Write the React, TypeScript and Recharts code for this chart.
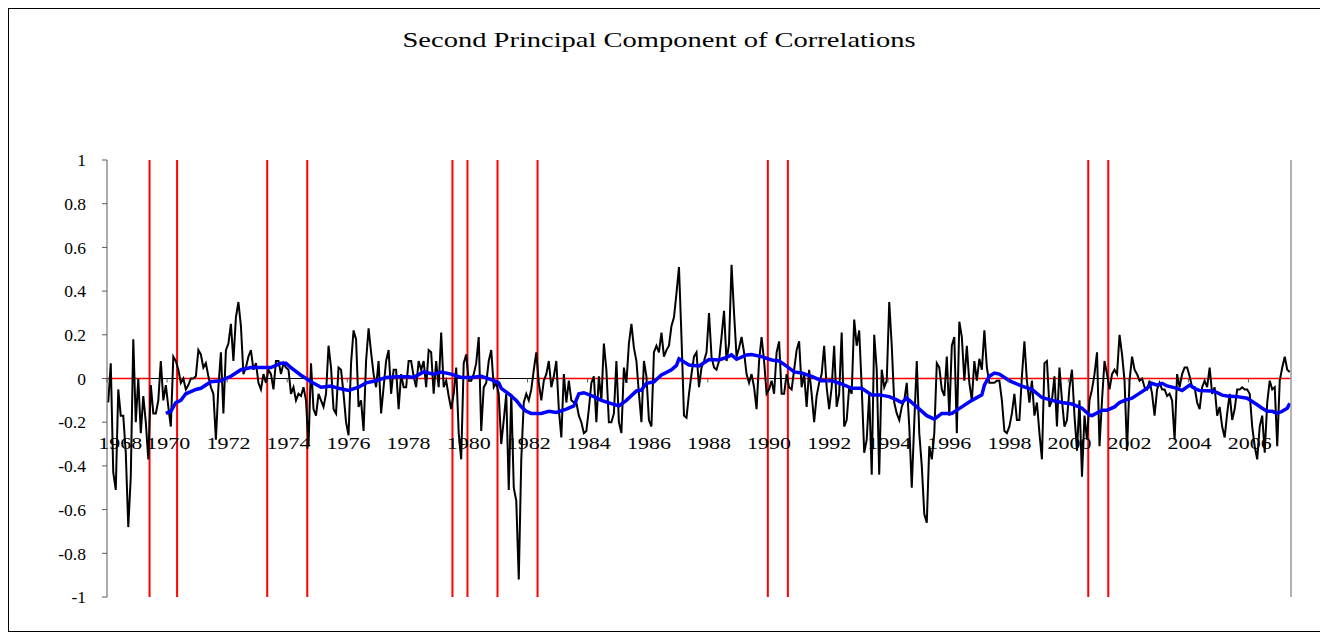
import React from 'react';
import { LineChart, Line, XAxis, YAxis, ReferenceLine } from 'recharts';

const FONT = '"Liberation Serif", "Times New Roman", serif';

// monthly values, one row per year starting July 1968
const pc2 = [
  -0.11, 0.07, -0.43, -0.51, -0.05, -0.17, -0.17, -0.34, -0.68, -0.45, 0.18, -0.2,
  0.0, -0.25, -0.08, -0.2, -0.37, -0.03, -0.16, -0.16, -0.1, 0.08, -0.1, -0.03,
  -0.13, -0.22, 0.1, 0.08, 0.04, -0.02, 0.0, -0.05, -0.03, 0.0, 0.0, 0.01,
  0.13, 0.11, 0.05, 0.07, 0.01, -0.04, -0.07, -0.28, -0.04, 0.12, -0.16, 0.13,
  0.16, 0.25, 0.08, 0.28, 0.35, 0.24, 0.02, 0.05, 0.1, 0.13, 0.04, 0.07,
  -0.02, -0.05, 0.02, -0.02, 0.04, 0.02, -0.05, 0.08, 0.08, 0.02, 0.07, 0.05,
  0.04, -0.07, -0.04, -0.1, -0.07, -0.08, -0.04, -0.1, -0.31, 0.07, -0.14, -0.17,
  -0.07, -0.1, -0.13, -0.07, 0.15, 0.05, -0.14, -0.16, 0.05, 0.04, -0.07, -0.2,
  -0.26, 0.07, 0.22, 0.18, -0.13, -0.1, -0.24, 0.08, 0.23, 0.12, 0.02, -0.04,
  0.08, -0.16, -0.04, 0.08, 0.13, -0.07, 0.04, 0.04, -0.14, 0.02, -0.04, -0.04,
  0.08, 0.08, 0.01, -0.04, 0.08, 0.04, 0.08, -0.04, 0.13, 0.12, -0.07, 0.08,
  -0.04, 0.21, -0.04, -0.01, -0.08, -0.14, -0.07, 0.05, -0.25, -0.37, 0.07, 0.11,
  -0.01, -0.01, 0.02, 0.07, 0.19, -0.24, -0.04, -0.02, 0.08, 0.13, -0.04, -0.02,
  -0.07, -0.3, -0.19, -0.07, -0.51, -0.07, -0.5, -0.56, -0.92, -0.37, -0.11, -0.07,
  -0.1, -0.05, 0.04, 0.12, -0.02, -0.1, -0.01, 0.02, 0.08, -0.04, 0.01, 0.08,
  -0.14, -0.27, 0.02, -0.11, -0.01, -0.1, -0.11, -0.11, -0.17, -0.2, -0.25, -0.24,
  -0.14, -0.02, 0.01, -0.2, 0.01, -0.1, 0.16, 0.04, -0.2, -0.2, -0.16, 0.08,
  -0.2, -0.25, 0.05, -0.02, 0.16, 0.25, 0.14, 0.08, -0.07, -0.2, 0.08, 0.01,
  -0.19, -0.22, 0.12, 0.15, 0.12, 0.21, 0.1, 0.13, 0.15, 0.24, 0.28, 0.39,
  0.51, 0.19, -0.17, -0.18, -0.07, 0.02, 0.1, 0.12, -0.04, 0.05, 0.08, 0.12,
  0.3, 0.1, 0.05, 0.04, 0.08, 0.19, 0.31, 0.08, 0.16, 0.52, 0.3, 0.1,
  0.14, 0.19, 0.12, 0.02, -0.02, 0.02, -0.04, -0.14, 0.08, 0.19, 0.08, -0.07,
  -0.05, -0.01, -0.07, 0.12, 0.17, -0.07, -0.07, 0.02, -0.04, -0.05, 0.04, 0.13,
  0.17, -0.04, 0.02, -0.13, 0.04, -0.07, -0.2, -0.08, -0.02, 0.02, 0.15, -0.04,
  -0.14, -0.04, 0.15, -0.13, -0.07, 0.21, -0.22, -0.19, -0.04, -0.07, 0.27, 0.15,
  0.22, -0.04, -0.34, -0.28, -0.07, -0.44, 0.2, 0.04, -0.44, 0.04, -0.04, -0.01,
  0.35, 0.15, -0.11, -0.16, -0.19, -0.13, -0.1, -0.02, -0.22, -0.5, -0.2, 0.08,
  -0.25, -0.4, -0.62, -0.66, -0.31, -0.37, -0.25, 0.07, 0.05, -0.05, -0.08, 0.1,
  -0.17, 0.15, 0.19, -0.25, 0.26, 0.19, -0.01, 0.15, -0.02, -0.1, 0.08, -0.01,
  0.09, 0.04, 0.22, 0.05, -0.02, -0.02, -0.02, -0.01, -0.01, -0.1, -0.24, -0.25,
  -0.22, -0.16, -0.07, -0.19, -0.19, 0.01, 0.17, -0.01, -0.11, -0.01, -0.17, -0.11,
  -0.25, -0.37, 0.07, 0.08, -0.13, -0.1, 0.01, -0.22, 0.05, -0.1, -0.22, -0.19,
  -0.04, 0.04, -0.17, -0.33, -0.1, -0.45, -0.17, -0.28, -0.1, -0.05, 0.02, 0.12,
  -0.31, -0.1, 0.08, 0.02, -0.05, 0.02, 0.04, 0.02, 0.2, 0.11, -0.01, -0.33,
  -0.01, 0.1, 0.04, 0.02, -0.01, 0.0, -0.04, -0.05, -0.01, -0.07, -0.17, -0.05,
  -0.02, -0.05, -0.05, -0.08, -0.07, -0.1, -0.28, 0.02, -0.04, 0.02, 0.05, 0.05,
  0.01, -0.04, -0.04, -0.11, -0.14, -0.04, -0.01, -0.04, 0.05, -0.07, -0.04, -0.17,
  -0.13, -0.22, -0.27, -0.16, -0.07, -0.19, -0.14, -0.05, -0.05, -0.04, -0.05, -0.05,
  -0.07, -0.22, -0.31, -0.37, -0.22, -0.17, -0.34, -0.11, -0.01, -0.05, -0.04, -0.31,
  -0.01, 0.05, 0.1, 0.04, 0.03,
];

// smoothed (blue) line, read at these month positions
const maMonths = [
  23, 25, 27, 29, 31, 33, 35, 37, 41, 45, 49, 53, 57, 61, 65, 69, 71, 73, 77, 81,
  85, 89, 92, 96, 100, 103, 107, 111, 115, 120, 122, 126, 130, 133, 137, 141, 145, 149, 153, 156,
  157, 160, 163, 165, 167, 169, 173, 176, 179, 183, 186, 188, 190, 194, 197, 201, 204, 207, 211, 213,
  215, 218, 221, 225, 227, 228, 232, 236, 240, 244, 247, 249, 251, 255, 257, 261, 265, 268, 271, 274,
  277, 281, 285, 289, 293, 297, 301, 305, 308, 312, 315, 317, 319, 323, 327, 330, 333, 337, 341, 345,
  349, 350, 352, 354, 356, 360, 361, 365, 369, 373, 377, 381, 385, 389, 392, 393, 397, 399, 402, 404,
  406, 409, 411, 413, 415, 417, 419, 421, 423, 427, 429, 432, 434, 436, 441, 443, 445, 447, 451, 455,
  457, 459, 461, 463, 465, 467, 469, 471, 472,
];
const maValues = [
  -0.16, -0.15, -0.11, -0.1, -0.07, -0.06, -0.05, -0.045, -0.015, -0.01, 0.01, 0.04, 0.05, 0.05, 0.05, 0.07, 0.07, 0.05, 0.015, -0.015,
  -0.04, -0.035, -0.045, -0.055, -0.04, -0.02, -0.01, 0.005, 0.008, 0.008, 0.005, 0.03, 0.02, 0.03, 0.02, 0.005, 0.005, 0.01, -0.005, -0.02,
  -0.045, -0.07, -0.1, -0.13, -0.15, -0.16, -0.16, -0.15, -0.155, -0.14, -0.125, -0.07, -0.065, -0.083, -0.1, -0.115, -0.125, -0.1, -0.057, -0.053,
  -0.022, -0.015, 0.016, 0.04, 0.06, 0.09, 0.062, 0.057, 0.087, 0.085, 0.097, 0.108, 0.088, 0.108, 0.11, 0.1, 0.085, 0.08, 0.057, 0.03,
  0.025, 0.01, -0.01, -0.01, -0.025, -0.045, -0.045, -0.075, -0.075, -0.083, -0.098, -0.11, -0.09, -0.13, -0.17, -0.186, -0.16, -0.16, -0.13, -0.1,
  -0.075, -0.03, 0.01, 0.025, 0.02, -0.01, -0.015, -0.035, -0.05, -0.087, -0.1, -0.11, -0.117, -0.136, -0.167, -0.17, -0.145, -0.145, -0.13, -0.11,
  -0.1, -0.09, -0.075, -0.06, -0.045, -0.022, -0.03, -0.022, -0.034, -0.045, -0.055, -0.03, -0.045, -0.055, -0.057, -0.065, -0.076, -0.08, -0.083, -0.09,
  -0.105, -0.12, -0.136, -0.15, -0.15, -0.16, -0.15, -0.136, -0.114,
];

const yearLabels = [
  '1968', '1970', '1972', '1974', '1976', '1978', '1980', '1982', '1984', '1986',
  '1988', '1990', '1992', '1994', '1996', '1998', '2000', '2002', '2004', '2006',
];

// recession start / end months (red vertical lines)
const recessionDates = [
  '1969-12', '1970-11', '1973-11', '1975-03', '1980-01', '1980-07',
  '1981-07', '1982-11', '1990-07', '1991-03', '2001-03', '2001-11',
];

const yTicks = [-1, -0.8, -0.6, -0.4, -0.2, 0, 0.2, 0.4, 0.6, 0.8, 1];

const START_YEAR = 1968;
const START_MONTH = 7;
const N = pc2.length;

const monthIndex = (d: string) => {
  const [y, m] = d.split('-').map(Number);
  return (y - START_YEAR) * 12 + (m - START_MONTH);
};

const boundaries = recessionDates.map((d) => monthIndex(d) - 0.5);
const yearTickMonths = yearLabels.map((l) => monthIndex(l + '-07'));

// red zero line runs only outside recessions
const zeroSegments: [number, number][] = [];
{
  let from = -0.5;
  for (let k = 0; k < boundaries.length; k += 2) {
    zeroSegments.push([from, boundaries[k]]);
    from = boundaries[k + 1];
  }
  zeroSegments.push([from, N - 0.5]);
}

const maByMonth = new Map(maMonths.map((m, k) => [m, maValues[k]]));
const data = pc2.map((v, i) => ({
  m: i,
  pc: v,
  ma: maByMonth.has(i) ? maByMonth.get(i) : null,
}));

const W = 1311;
const H = 622;
const X_AXIS_H = 20;
const MARGIN = { top: 151, right: 28, bottom: 34 - X_AXIS_H, left: 38 };
const Y_AXIS_W = 60;
const PLOT_W = W - MARGIN.left - MARGIN.right - Y_AXIS_W - 1;
const PLOT_H = H - MARGIN.top - MARGIN.bottom - X_AXIS_H;
const ZERO_Y = MARGIN.top + PLOT_H / 2;
const PX_PER_MONTH = PLOT_W / N;
const AXIS_GREY = '#595959';

const YearTick = (props: any) => {
  const { x, payload } = props;
  const k = yearTickMonths.indexOf(payload.value);
  const bx = x - PX_PER_MONTH / 2;
  // the first label is nudged right, clear of the value axis
  const lx = k === 0 ? x + 12 : x;
  return (
    <g>
      <line x1={bx} x2={bx} y1={ZERO_Y} y2={ZERO_Y + 4} stroke={AXIS_GREY} />
      <text
        x={lx}
        y={ZERO_Y + 70}
        textAnchor="middle"
        fontFamily={FONT}
        fontSize={17.5}
        textLength={44}
        lengthAdjust="spacingAndGlyphs"
        fill="#000"
      >
        {yearLabels[k]}
      </text>
    </g>
  );
};

const ValueTick = (props: any) => {
  const { x, y, payload } = props;
  return (
    <text x={x} y={y} dy="0.355em" textAnchor="end" fontFamily={FONT} fontSize={17.5} fill="#000">
      {String(payload.value)}
    </text>
  );
};

export default function App() {
  return (
    <div
      style={{
        position: 'relative',
        width: W,
        height: H,
        border: '1px solid #000',
        background: '#fff',
        fontFamily: FONT,
      }}
    >
      <svg width={W} height={70} style={{ position: 'absolute', left: 0, top: 0 }}>
        <text
          x={650}
          y={38}
          textAnchor="middle"
          fontFamily={FONT}
          fontSize={21}
          textLength={513}
          lengthAdjust="spacingAndGlyphs"
          fill="#000"
        >
          Second Principal Component of Correlations
        </text>
      </svg>
      <LineChart width={W} height={H} data={data} margin={MARGIN} style={{ fontFamily: FONT }}>
        <XAxis
          type="number"
          dataKey="m"
          domain={[-0.5, N - 0.5]}
          ticks={yearTickMonths}
          interval={0}
          tick={(p: any) => <YearTick {...p} />}
          axisLine={false}
          tickLine={false}
          height={X_AXIS_H}
        />
        <YAxis
          domain={[-1, 1]}
          ticks={yTicks}
          interval={0}
          width={Y_AXIS_W}
          tickSize={5}
          tickMargin={16}
          tick={(p: any) => <ValueTick {...p} />}
          axisLine={{ stroke: AXIS_GREY }}
          tickLine={{ stroke: AXIS_GREY }}
        />
        <YAxis
          yAxisId="right"
          orientation="right"
          domain={[-1, 1]}
          width={1}
          tick={false}
          tickLine={false}
          axisLine={{ stroke: '#999', strokeWidth: 1.5 }}
        />
        <ReferenceLine y={0} stroke="#000" strokeWidth={1} />
        {zeroSegments.map(([a, b], k) => (
          <ReferenceLine
            key={'z' + k}
            segment={[{ x: a, y: 0 }, { x: b, y: 0 }]}
            stroke="#ff0000"
            strokeWidth={1.5}
          />
        ))}
        {boundaries.map((b, k) => (
          <ReferenceLine key={'r' + k} x={b} stroke="#ff0000" strokeWidth={2} />
        ))}
        <Line
          dataKey="pc"
          stroke="#000"
          strokeWidth={2}
          dot={false}
          isAnimationActive={false}
        />
        <Line
          dataKey="ma"
          stroke="#0000ff"
          strokeWidth={3.5}
          dot={false}
          connectNulls
          isAnimationActive={false}
        />
      </LineChart>
    </div>
  );
}
